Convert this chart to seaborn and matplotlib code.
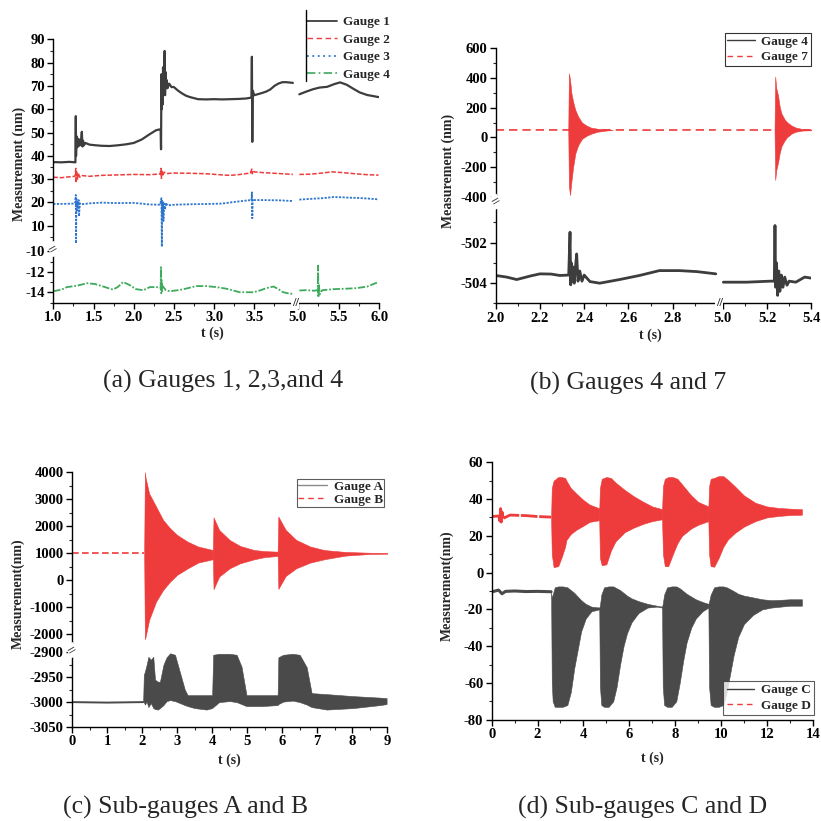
import numpy as np
import matplotlib
matplotlib.use('Agg')
import matplotlib.pyplot as plt
import seaborn as sns
from matplotlib.lines import Line2D

# ---------------- data ----------------
# (a) gauges 1-4, broken x axis (1-4 | 5-6) and broken y axis
a_g1_t_left = [1.00, 1.10, 1.20, 1.275, 1.280, 1.283, 1.287, 1.292, 1.30, 1.31, 1.32, 1.33, 1.345, 1.355, 1.362,
               1.37, 1.38, 1.40, 1.45, 1.50, 1.60, 1.70, 1.80, 1.90, 2.00, 2.10, 2.20, 2.28, 2.335, 2.340, 2.345,
               2.35, 2.355, 2.36, 2.365, 2.37, 2.378, 2.385, 2.39, 2.395, 2.40, 2.41, 2.42, 2.44, 2.47, 2.50, 2.55,
               2.60, 2.65, 2.70, 2.80, 2.90, 3.00, 3.10, 3.20, 3.30, 3.40, 3.465, 3.470, 3.475, 3.480, 3.50, 3.55,
               3.60, 3.65, 3.70, 3.75, 3.80, 3.85, 3.90, 3.95, 3.98]
a_g1_v_left = [37.3, 37.2, 37.4, 37.2, 57.0, 40.0, 48.5, 43.5, 47.5, 44.0, 47.0, 44.5, 46.5, 50.3, 44.0,
               46.5, 44.5, 45.5, 44.8, 44.6, 44.3, 44.2, 44.5, 44.9, 45.5, 47.0, 49.3, 51.0, 51.4, 42.8, 75.0,
               60.0, 73.0, 62.0, 78.0, 68.0, 74.0, 85.0, 66.0, 76.0, 69.0, 72.5, 69.0, 71.0, 69.5, 69.5, 68.0,
               66.8, 65.8, 65.2, 64.3, 64.2, 64.3, 64.2, 64.3, 64.4, 64.6, 65.0, 82.5, 46.0, 68.0, 66.0, 66.5,
               67.0, 67.6, 68.5, 70.0, 71.0, 71.6, 71.6, 71.4, 71.3]
a_g1_t_right = [5.02, 5.10, 5.19, 5.27, 5.36, 5.45, 5.52, 5.60, 5.68, 5.76, 5.85, 5.93, 5.99]
a_g1_v_right = [66.4, 67.5, 68.6, 69.3, 69.6, 70.8, 71.5, 70.5, 68.8, 67.2, 66.1, 65.6, 65.2]

a_g2_t_left = [1.00, 1.10, 1.20, 1.27, 1.28, 1.285, 1.29, 1.30, 1.31, 1.33, 1.36, 1.45, 1.60, 1.80, 2.00, 2.20,
               2.33, 2.34, 2.345, 2.35, 2.36, 2.38, 2.42, 2.50, 2.70, 2.90, 3.10, 3.20, 3.30, 3.45, 3.47, 3.475,
               3.48, 3.50, 3.60, 3.75, 3.90, 3.98]
a_g2_v_left = [30.8, 30.6, 31.0, 31.2, 34.6, 28.4, 33.5, 30.0, 32.5, 30.8, 31.5, 31.2, 31.6, 31.8, 32.0, 31.9,
               32.2, 34.6, 30.3, 33.8, 31.3, 33.0, 32.4, 32.6, 32.5, 32.3, 31.8, 31.6, 31.9, 32.6, 34.3, 32.3,
               33.6, 33.1, 32.8, 32.5, 32.2, 32.0]
a_g2_t_right = [5.02, 5.15, 5.30, 5.42, 5.55, 5.70, 5.85, 5.99]
a_g2_v_right = [32.0, 32.1, 32.6, 33.1, 32.8, 32.3, 31.9, 31.7]

a_g3_t_left = [1.00, 1.15, 1.27, 1.28, 1.283, 1.288, 1.293, 1.30, 1.31, 1.315, 1.32, 1.33, 1.35, 1.45, 1.60,
               1.80, 2.00, 2.20, 2.33, 2.345, 2.35, 2.355, 2.36, 2.365, 2.37, 2.38, 2.39, 2.40, 2.42, 2.50, 2.70,
               2.90, 3.10, 3.25, 3.40, 3.465, 3.47, 3.475, 3.48, 3.50, 3.60, 3.80, 3.98]
a_g3_v_left = [19.3, 19.4, 19.5, 23.2, 2.4, 21.5, 16.0, 20.5, 18.0, 21.0, 14.0, 19.6, 19.2, 19.6, 19.9,
               19.7, 19.8, 19.1, 19.0, 21.8, 1.0, 20.5, 15.0, 20.0, 12.0, 19.5, 17.0, 19.8, 18.7, 19.0, 19.2,
               19.3, 19.5, 20.2, 20.8, 21.0, 24.3, 13.2, 21.5, 21.0, 21.0, 20.9, 20.6]
a_g3_t_right = [5.02, 5.15, 5.30, 5.44, 5.55, 5.64, 5.75, 5.88, 5.99]
a_g3_v_right = [21.2, 21.5, 21.8, 22.3, 22.2, 22.0, 21.9, 21.6, 21.3]

a_g4_t_left = [1.00, 1.10, 1.17, 1.30, 1.42, 1.52, 1.62, 1.74, 1.80, 1.87, 1.95, 2.03, 2.12, 2.20, 2.29, 2.335,
               2.34, 2.343, 2.347, 2.352, 2.36, 2.40, 2.45, 2.55, 2.62, 2.70, 2.78, 2.90, 3.03, 3.15, 3.32, 3.49,
               3.58, 3.65, 3.74, 3.80, 3.86, 3.92, 3.98]
a_g4_v_left = [-13.9, -13.75, -13.5, -13.35, -13.12, -13.2, -13.44, -13.74, -13.5, -13.0, -13.3, -13.7, -13.8,
               -13.5, -13.5, -13.6, -11.56, -14.1, -12.8, -13.9, -13.4, -13.8, -13.9, -13.8, -13.7, -13.55, -13.4,
               -13.4, -13.5, -13.65, -14.0, -14.0, -13.8, -13.6, -13.44, -13.7, -14.0, -14.1, -14.16]
a_g4_t_right = [5.02, 5.10, 5.20, 5.245, 5.25, 5.253, 5.258, 5.27, 5.30, 5.44, 5.60, 5.72, 5.85, 5.99]
a_g4_v_right = [-13.83, -13.8, -13.85, -13.8, -11.4, -14.5, -13.2, -14.2, -13.8, -13.7, -13.65, -13.6, -13.45, -13.0]

# (b) gauges 4 and 7
b_g7_t_left = [2.00, 2.33, 2.52, 2.70, 2.85, 2.995]
b_g7_v_left = [50, 50, 50, 49, 50, 50]
b_g7_t_right = [5.00, 5.234, 5.40]
b_g7_v_right = [50, 50, 50]
b_g7_burst1_t = [2.328, 2.331, 2.336, 2.342, 2.35, 2.36, 2.373, 2.39, 2.41, 2.43, 2.46, 2.50, 2.53]
b_g7_burst1_hi = [50, 431, 390, 300, 240, 184, 140, 100, 80, 66, 58, 53, 50]
b_g7_burst1_lo = [50, -330, -388, -300, -200, -108, -52, -10, 10, 24, 38, 46, 50]
b_g7_burst2_t = [5.234, 5.237, 5.242, 5.25, 5.258, 5.266, 5.28, 5.29, 5.31, 5.33, 5.36, 5.40]
b_g7_burst2_hi = [50, 409, 330, 281, 200, 158, 120, 103, 80, 66, 56, 52]
b_g7_burst2_lo = [50, -287, -220, -168, -100, -57, -20, 0, 25, 38, 46, 48]

b_g4_t_left = [2.00, 2.05, 2.095, 2.155, 2.20, 2.25, 2.29, 2.33, 2.336, 2.339, 2.342, 2.346, 2.350, 2.355, 2.36,
               2.366, 2.372, 2.38, 2.39, 2.40, 2.426, 2.47, 2.56, 2.65, 2.74, 2.83, 2.91, 2.995]
b_g4_v_left = [-503.62, -503.7, -503.82, -503.65, -503.54, -503.55, -503.62, -503.6, -501.49, -504.08, -503.0,
               -503.9, -503.2, -504.0, -503.3, -502.56, -503.9, -503.4, -503.9, -503.6, -503.92, -504.0, -503.82,
               -503.62, -503.38, -503.38, -503.43, -503.54]
b_g4_t_right = [5.003, 5.108, 5.214, 5.233, 5.236, 5.239, 5.243, 5.248, 5.253, 5.258, 5.265, 5.272, 5.28, 5.29,
                5.30, 5.33, 5.37, 5.40]
b_g4_v_right = [-503.95, -503.95, -503.9, -503.9, -501.16, -504.2, -503.0, -504.6, -503.4, -504.4, -503.6,
                -504.2, -503.7, -504.1, -503.9, -503.95, -503.7, -503.75]

# (c) sub-gauges A and B (envelopes of the dense oscillation)
c_gb_t = [0.0, 2.06]
c_gb_v = [1000, 1000]
c_gb_b1_t = [2.06, 2.08, 2.10, 2.2, 2.4, 2.6, 2.8, 3.0, 3.3, 3.6, 4.02]
c_gb_b1_hi = [1000, 4000, 3800, 3220, 2730, 2235, 1925, 1680, 1430, 1250, 1120]
c_gb_b1_lo = [1000, -2180, -2100, -1470, -790, -360, -50, 200, 440, 655, 780]
c_gb_b2_t = [4.02, 4.04, 4.2, 4.5, 4.8, 5.2, 5.5, 5.87]
c_gb_b2_hi = [1080, 2330, 1865, 1494, 1270, 1120, 1080, 1060]
c_gb_b2_lo = [920, -330, 136, 444, 630, 778, 860, 900]
c_gb_b3_t = [5.87, 5.89, 6.1, 6.4, 6.8, 7.2, 7.8, 8.5, 9.0]
c_gb_b3_hi = [1060, 2360, 1865, 1494, 1250, 1120, 1050, 1020, 1015]
c_gb_b3_lo = [940, -320, 160, 444, 655, 778, 914, 975, 985]

c_ga_t = [0.0, 1.0, 2.03]
c_ga_v = [-3000, -3001, -3000]
c_ga_env_t = [2.03, 2.05, 2.08, 2.13, 2.18, 2.25, 2.32, 2.37, 2.45, 2.51, 2.61, 2.70, 2.80, 2.94, 3.08, 3.22, 3.30,
              3.50, 3.84, 4.00, 4.03, 4.20, 4.50, 4.70, 4.84, 4.98, 5.40, 5.87, 5.89, 6.03, 6.30, 6.50, 6.70, 6.84,
              7.27, 8.03, 8.79, 8.98]
c_ga_env_hi = [-3000, -2945, -2939, -2925, -2909, -2915, -2909, -2955, -2959, -2959, -2925, -2910, -2902, -2905,
               -2940, -2975, -2986, -2986, -2986, -2986, -2905, -2903, -2903, -2905, -2929, -2986, -2986, -2986,
               -2910, -2905, -2903, -2905, -2930, -2982, -2984, -2988, -2991, -2992]
c_ga_env_lo = [-3000, -3000, -3005, -2999, -3010, -3002, -3012, -3014, -3015, -3012, -3006, -2998, -2996, -2998,
               -3002, -3006, -3008, -3012, -3015, -3012, -3010, -3000, -2998, -3000, -3004, -3008, -3008, -3006,
               -3004, -2999, -2997, -3000, -3005, -3010, -3015, -3012, -3006, -3004]

# (d) sub-gauges C and D
d_gd_t = [0.0, 0.3, 0.36, 0.39, 0.42, 0.45, 0.5, 0.8, 1.5, 2.0, 2.59]
d_gd_v = [30.5, 30.8, 28.0, 34.8, 27.5, 33.0, 29.5, 31.3, 31.0, 30.5, 30.2]
d_gd_bursts = [
    ([2.59, 2.62, 2.70, 2.90, 3.04, 3.20, 3.26, 3.45, 3.69, 4.00, 4.27, 4.69],
     [30, 46, 50, 52, 52, 51.5, 50, 46, 43, 39.5, 37, 35],
     [30, 10, 3, 3.5, 8, 14, 17.8, 21, 23.3, 25.5, 27.6, 28.5]),
    ([4.69, 4.72, 4.80, 5.00, 5.20, 5.40, 5.80, 6.20, 6.60, 7.00, 7.43],
     [34, 46, 51, 52, 51.5, 49, 45, 41.5, 38.6, 36, 34.5],
     [28, 8, 4, 4.5, 12, 17, 22, 24.5, 26.5, 28, 29]),
    ([7.43, 7.47, 7.55, 7.70, 7.90, 8.10, 8.30, 8.70, 9.00, 9.45],
     [34, 47, 51, 52, 52, 51, 48, 42, 38.5, 36],
     [29, 10, 3.5, 3.5, 10, 16, 20, 24, 26, 28]),
    ([9.45, 9.48, 9.55, 9.70, 9.90, 10.10, 10.30, 10.60, 11.00, 11.50, 12.00, 12.50, 13.00, 13.53],
     [35, 47, 51, 51.5, 52.5, 52.5, 50.5, 47, 42, 38, 36, 35.2, 34.8, 34.5],
     [28, 10, 3.5, 3.2, 8, 14, 18, 21.5, 25, 28, 30, 30.8, 31.3, 31.5]),
]
d_gc_t = [0.0, 0.3, 0.45, 0.6, 1.0, 1.5, 2.0, 2.59]
d_gc_v = [-10.5, -9.5, -11.5, -10.2, -10.0, -10.3, -10.2, -10.4]
d_gc_bursts = [
    ([2.59, 2.62, 2.66, 2.75, 2.90, 3.10, 3.30, 3.45, 3.60, 3.75, 3.90, 4.10, 4.35, 4.69],
     [-10.5, -14, -12, -8, -7.5, -7.5, -8, -9.5, -11, -13, -15, -17, -18.5, -19],
     [-10.5, -60, -70, -73, -73, -73, -72, -65, -52, -42, -32, -25, -21, -20]),
    ([4.69, 4.72, 4.78, 4.90, 5.10, 5.30, 5.45, 5.60, 5.75, 5.90, 6.10, 6.40, 6.80, 7.20, 7.43],
     [-19, -18, -12, -8, -7.5, -7.5, -8.5, -9.5, -11, -12.5, -14, -15.5, -17, -18, -18.5],
     [-19, -62, -72, -73, -73, -70, -62, -50, -40, -33, -27, -22, -19, -18.5, -19]),
    ([7.43, 7.46, 7.52, 7.65, 7.85, 8.05, 8.20, 8.35, 8.50, 8.70, 8.90, 9.20, 9.45],
     [-18.5, -17, -12, -8, -7.5, -7.5, -8.5, -10, -11.5, -13, -14.5, -16, -17],
     [-19, -62, -72, -73, -73, -70, -60, -48, -38, -30, -25, -21, -19]),
    ([9.45, 9.48, 9.55, 9.70, 9.90, 10.10, 10.25, 10.40, 10.55, 10.75, 11.00, 11.40, 11.80, 12.20, 12.60,
      13.00, 13.53],
     [-17, -16, -12, -8, -7.5, -7.5, -8, -9, -10, -11.5, -12.5, -13.5, -14.5, -15, -14.8, -14.5, -14.5],
     [-19, -62, -72, -73, -73, -72, -65, -55, -45, -35, -28, -23, -20, -19, -18.5, -18, -18]),
]

# tick labels
a_xticks = [1.0, 1.5, 2.0, 2.5, 3.0, 3.5, 5.0, 5.5, 6.0]
a_yticks = [-14, -12, -10, 10, 20, 30, 40, 50, 60, 70, 80, 90]
b_xticks = [2.0, 2.2, 2.4, 2.6, 2.8, 5.0, 5.2, 5.4]
b_yticks = [-504, -502, -400, -200, 0, 200, 400, 600]
c_xticks = [0, 1, 2, 3, 4, 5, 6, 7, 8, 9]
c_yticks = [-3050, -3000, -2950, -2900, -2000, -1000, 0, 1000, 2000, 3000, 4000]
d_xticks = [0, 2, 4, 6, 8, 10, 12, 14]
d_yticks = [-80, -60, -40, -20, 0, 20, 40, 60]

captions = ['(a) Gauges 1, 2,3,and 4', '(b) Gauges 4 and 7', '(c) Sub-gauges A and B', '(d) Sub-gauges C and D']

# ---------------- style ----------------
sns.set_style('ticks')
plt.rcParams['font.family'] = ['Liberation Serif', 'DejaVu Serif']
plt.rcParams['font.weight'] = 'bold'
plt.rcParams['axes.labelweight'] = 'bold'
plt.rcParams['axes.linewidth'] = 1.0

DARK = '#3d3d3d'
RED = '#ee3b3b'
BLUE = '#2d76cf'
GREEN = '#3daa5c'
TICK_FS = 10.5
LABEL_FS = 10

W = 821.0
fig = plt.figure(figsize=(8.21, 8.21), dpi=100)


def px_axes(left, bottom, width, height):
    # pixel box (top-left origin) -> figure axes
    return fig.add_axes([left / W, 1 - bottom / W, width / W, height / W])


def broken_scale(knots, mapped):
    k = np.asarray(knots, float)
    m = np.asarray(mapped, float)

    def fwd(v):
        v = np.asarray(v, float)
        out = np.interp(v, k, m)
        out = np.where(v < k[0], m[0] + (v - k[0]) * (m[1] - m[0]) / (k[1] - k[0]), out)
        out = np.where(v > k[-1], m[-1] + (v - k[-1]) * (m[-1] - m[-2]) / (k[-1] - k[-2]), out)
        return out

    def inv(v):
        v = np.asarray(v, float)
        out = np.interp(v, m, k)
        out = np.where(v < m[0], k[0] + (v - m[0]) * (k[1] - k[0]) / (m[1] - m[0]), out)
        out = np.where(v > m[-1], k[-1] + (v - m[-1]) * (k[-1] - k[-2]) / (m[-1] - m[-2]), out)
        return out
    return fwd, inv


def line(ax, t, v, color, ls='-', lw=1.2):
    sns.lineplot(x=t, y=v, ax=ax, color=color, linestyle=ls, linewidth=lw,
                 estimator=None, sort=False, legend=False)


def band(ax, t, lo, hi, color):
    ax.fill_between(t, lo, hi, color=color, linewidth=0.4, edgecolor=color)


def style_axes(ax, xt, xminor, yt, yminor, fmt_x='%g', fmt_y='%g'):
    ax.set_xticks(xt, labels=[fmt_x % v for v in xt])
    ax.set_xticks(xminor, minor=True)
    ax.set_yticks(yt, labels=[fmt_y % v for v in yt])
    ax.set_yticks(yminor, minor=True)
    ax.tick_params(which='major', direction='out', length=4, width=1, labelsize=TICK_FS, pad=2, colors='black')
    ax.tick_params(which='minor', direction='out', length=2.2, width=0.8)
    for s in ['top', 'right']:
        ax.spines[s].set_visible(False)
    for s in ['left', 'bottom']:
        ax.spines[s].set_color('black')
    ax.grid(False)


def labels(ax, ylab, xpos, ypos):
    ax.set_xlabel('t (s)', fontsize=LABEL_FS)
    ax.set_ylabel(ylab, fontsize=LABEL_FS)
    ax.xaxis.label.set_va('center')
    ax.yaxis.label.set_va('center')
    ax.xaxis.set_label_coords(*xpos)
    ax.yaxis.set_label_coords(*ypos)


def xbreak(ax, x):
    ax.text(x, 0, '//', transform=ax.get_xaxis_transform(), ha='center', va='center', fontsize=9,
            bbox=dict(facecolor='white', edgecolor='none', pad=0.3), clip_on=False, zorder=5)


def ybreak(ax, y):
    ax.text(0, y, '=', transform=ax.get_yaxis_transform(), ha='center', va='center', fontsize=11,
            rotation=30, bbox=dict(facecolor='white', edgecolor='none', pad=0.2), clip_on=False, zorder=5)


# ---------------- (a) ----------------
ax = px_axes(53.3, 302.5, 326, 263.2)
ax.set_xscale('function', functions=broken_scale([1.0, 4.0, 4.98, 6.0], [0, 241.2, 242.8, 326]))
ax.set_yscale('function', functions=broken_scale([-15, -10, 0.86, 90], [0, 51.25, 55.5, 263.2]))
line(ax, a_g1_t_left, a_g1_v_left, DARK, '-', 1.6)
line(ax, a_g1_t_right, a_g1_v_right, DARK, '-', 1.6)
line(ax, a_g2_t_left, a_g2_v_left, RED, (0, (3, 1.2)), 1.1)
line(ax, a_g2_t_right, a_g2_v_right, RED, (0, (3, 1.2)), 1.1)
line(ax, a_g3_t_left, a_g3_v_left, BLUE, (0, (1.2, 0.8)), 1.3)
line(ax, a_g3_t_right, a_g3_v_right, BLUE, (0, (1.2, 0.8)), 1.3)
line(ax, a_g4_t_left, a_g4_v_left, GREEN, (0, (4, 1, 1, 1)), 1.3)
line(ax, a_g4_t_right, a_g4_v_right, GREEN, (0, (4, 1, 1, 1)), 1.3)
ax.set_xlim(1.0, 6.0)
ax.set_ylim(-15, 90)
style_axes(ax, a_xticks, [1.25, 1.75, 2.25, 2.75, 3.25, 3.75, 5.25, 5.75], a_yticks,
           [-15, -13, -11, 5, 15, 25, 35, 45, 55, 65, 75, 85], fmt_x='%.1f', fmt_y='%d')
labels(ax, 'Measurement (nm)', (0.487, -0.116), (-0.105, 0.526))
xbreak(ax, 4.49)
ybreak(ax, -4.5)
handles = [Line2D([], [], color=DARK, lw=1.3, ls='-'),
           Line2D([], [], color=RED, lw=1.0, ls=(0, (4, 2.5))),
           Line2D([], [], color=BLUE, lw=1.3, ls=(0, (1, 2))),
           Line2D([], [], color=GREEN, lw=1.2, ls=(0, (5, 2, 1, 2)))]
ax.legend(handles, ['Gauge 1', 'Gauge 2', 'Gauge 3', 'Gauge 4'], loc='upper left',
          bbox_to_anchor=(307 / W, 1 - 16 / W), bbox_transform=fig.transFigure, frameon=False,
          fontsize=9.5, borderpad=0, borderaxespad=0, handlelength=2.3, handletextpad=0.4, labelspacing=0.4)
fig.add_artist(Line2D([305.5 / W, 305.5 / W], [1 - 10 / W, 1 - 81 / W], color='black', lw=1.0))

# ---------------- (b) ----------------
ax = px_axes(495.7, 303.5, 315.6, 255.2)
ax.set_xscale('function', functions=broken_scale([2.0, 2.995, 5.0, 5.4], [0, 220.1, 227, 315.6]))
ax.set_yscale('function', functions=broken_scale([-505, -500.1, -420, 600], [0, 99.5, 103.8, 255.2]))
line(ax, b_g4_t_left, b_g4_v_left, DARK, '-', 2.0)
line(ax, b_g4_t_right, b_g4_v_right, DARK, '-', 2.0)
line(ax, b_g7_t_left, b_g7_v_left, RED, (0, (5, 3)), 1.2)
line(ax, b_g7_t_right, b_g7_v_right, RED, (0, (5, 3)), 1.2)
band(ax, b_g7_burst1_t, b_g7_burst1_lo, b_g7_burst1_hi, RED)
band(ax, b_g7_burst2_t, b_g7_burst2_lo, b_g7_burst2_hi, RED)
ax.set_xlim(2.0, 5.4)
ax.set_ylim(-505, 600)
style_axes(ax, b_xticks, [2.1, 2.3, 2.5, 2.7, 2.9, 5.1, 5.3], b_yticks,
           [-505, -503, -501, -300, -100, 100, 300, 500], fmt_x='%.1f', fmt_y='%d')
labels(ax, 'Measurement (nm)', (0.489, -0.123), (-0.151, 0.519))
xbreak(ax, 4.0)
ybreak(ax, -460)
handles = [Line2D([], [], color=DARK, lw=1.0, ls='-'),
           Line2D([], [], color=RED, lw=1.0, ls=(0, (4, 3)))]
leg = ax.legend(handles, ['Gauge 4', 'Gauge 7'], loc='upper right',
                bbox_to_anchor=(811 / W, 1 - 33 / W), bbox_transform=fig.transFigure, frameon=True,
                fancybox=False, fontsize=9.5, borderpad=0.2, borderaxespad=0, handlelength=2.1,
                handletextpad=0.5, labelspacing=0.25)
leg.get_frame().set_edgecolor('black')
leg.get_frame().set_linewidth(0.8)

# ---------------- (c) ----------------
ax = px_axes(72, 727, 315.3, 254.7)
ax.set_yscale('function', functions=broken_scale([-3050, -2900, -2520, 4000], [0, 74.7, 78.7, 254.7]))
line(ax, c_ga_t, c_ga_v, '#4a4a4a', '-', 1.4)
band(ax, c_ga_env_t, c_ga_env_lo, c_ga_env_hi, '#4a4a4a')
line(ax, c_gb_t, c_gb_v, RED, (0, (4, 2)), 1.2)
band(ax, c_gb_b1_t, c_gb_b1_lo, c_gb_b1_hi, RED)
band(ax, c_gb_b2_t, c_gb_b2_lo, c_gb_b2_hi, RED)
band(ax, c_gb_b3_t, c_gb_b3_lo, c_gb_b3_hi, RED)
ax.set_xlim(0, 9)
ax.set_ylim(-3050, 4000)
style_axes(ax, c_xticks, [0.5, 1.5, 2.5, 3.5, 4.5, 5.5, 6.5, 7.5, 8.5], c_yticks,
           [-3025, -2975, -2925, -1500, -500, 500, 1500, 2500, 3500], fmt_x='%d', fmt_y='%d')
labels(ax, 'Measurement(nm)', (0.498, -0.130), (-0.171, 0.522))
ybreak(ax, -2700)
handles = [Line2D([], [], color='#8a8a8a', lw=1.0, ls='-'),
           Line2D([], [], color=RED, lw=1.0, ls=(0, (4, 3)))]
leg = ax.legend(handles, ['Gauge A', 'Gauge B'], loc='upper right',
                bbox_to_anchor=(384 / W, 1 - 479 / W), bbox_transform=fig.transFigure, frameon=True,
                fancybox=False, fontsize=9.5, borderpad=0.1, borderaxespad=0, handlelength=2.2,
                handletextpad=0.5, labelspacing=0.1)
leg.get_frame().set_edgecolor('#333333')
leg.get_frame().set_linewidth(0.8)

# ---------------- (d) ----------------
ax = px_axes(491.7, 719.7, 321, 257.4)
line(ax, d_gc_t, d_gc_v, '#4a4a4a', '-', 2.2)
for t, hi, lo in d_gc_bursts:
    band(ax, t, lo, hi, '#4a4a4a')
line(ax, d_gd_t, d_gd_v, RED, (0, (6, 0.6)), 2.0)
for t, hi, lo in d_gd_bursts:
    band(ax, t, lo, hi, RED)
ax.set_xlim(0, 14)
ax.set_ylim(-80, 60)
style_axes(ax, d_xticks, [1, 3, 5, 7, 9, 11, 13], d_yticks, [-70, -50, -30, -10, 10, 30, 50],
           fmt_x='%d', fmt_y='%d')
labels(ax, 'Measurement(nm)', (0.5, -0.148), (-0.139, 0.519))
handles = [Line2D([], [], color=DARK, lw=1.0, ls='-'),
           Line2D([], [], color=RED, lw=1.0, ls=(0, (4, 3)))]
leg = ax.legend(handles, ['Gauge C', 'Gauge D'], loc='lower right',
                bbox_to_anchor=(814 / W, 1 - 715 / W), bbox_transform=fig.transFigure, frameon=True,
                fancybox=False, fontsize=9.5, borderpad=0.25, borderaxespad=0, handlelength=2.1,
                handletextpad=0.5, labelspacing=0.25)
leg.get_frame().set_edgecolor('#333333')
leg.get_frame().set_linewidth(0.8)

# ---------------- captions ----------------
for txt, (cx, cy) in zip(captions, [(223, 381), (628, 383), (186, 807), (643, 807)]):
    fig.text(cx / W, 1 - cy / W, txt, ha='center', va='center', fontsize=18.5, fontweight='normal',
             family=['Liberation Serif', 'DejaVu Serif'])

fig.savefig('out.png', dpi=100, facecolor='white')
